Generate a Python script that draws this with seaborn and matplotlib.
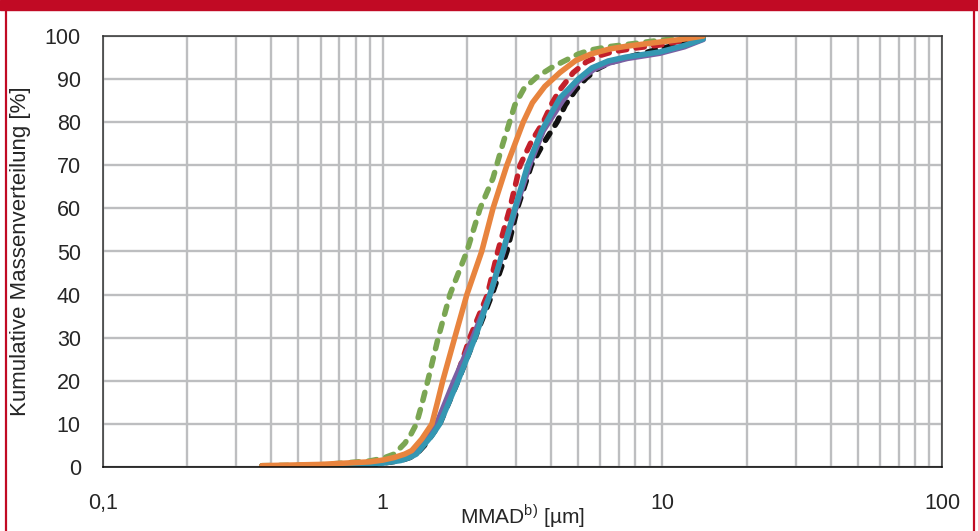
"""
Kumulative Massenverteilung vs. MMAD (log scale)
"""
import matplotlib
matplotlib.use('Agg')
import matplotlib.pyplot as plt
import matplotlib.patches as mpatches
import matplotlib.lines as mlines
from matplotlib.ticker import LogLocator, NullFormatter
import seaborn as sns
import pandas as pd

# --- data ---
black_x = [0.37, 0.6, 0.9, 1.0, 1.16, 1.25, 1.32, 1.42, 1.6, 1.86, 2.14, 2.46, 2.78, 3.03, 3.4, 3.75, 4.2, 4.5, 4.9, 5.35, 5.9, 6.5, 7.3, 8.1, 9.8, 12.0, 14.0]
black_y = [0.2, 0.3, 0.6, 0.9, 1.5, 2.2, 3.0, 5.2, 10, 20, 30, 40, 50, 60, 70, 75, 80, 84, 87.5, 90.3, 92.5, 93.8, 94.8, 95.6, 97.0, 98.4, 99.6]

red_x = [0.37, 0.6, 0.9, 1.0, 1.16, 1.25, 1.32, 1.42, 1.58, 1.82, 2.05, 2.37, 2.58, 2.85, 3.1, 3.4, 3.75, 4.04, 4.3, 4.8, 5.35, 6.0, 6.6, 8.0, 10.0, 12.0, 14.0]
red_y = [0.2, 0.3, 0.7, 1.0, 1.7, 2.5, 3.5, 5.8, 10.5, 20, 30, 40, 50, 60, 70, 75.5, 80, 84.5, 87.5, 91.5, 94, 95.5, 96.3, 97.2, 98.0, 99.0, 100]

purple_x = [0.37, 0.6, 0.9, 1.0, 1.16, 1.25, 1.32, 1.42, 1.57, 1.80, 2.10, 2.42, 2.70, 2.99, 3.35, 3.75, 4.4, 5.0, 5.7, 6.5, 7.5, 9.8, 12.0, 14.0]
purple_y = [0.2, 0.3, 0.7, 1.0, 1.7, 2.6, 3.5, 6.0, 10.5, 20, 30, 40, 50, 60, 70, 78, 85, 89.5, 92.3, 93.8, 94.8, 96.0, 97.5, 99.2]

teal_x = [0.37, 0.6, 0.9, 1.0, 1.16, 1.25, 1.32, 1.4, 1.5, 1.6, 1.86, 2.14, 2.42, 2.69, 2.97, 3.3, 3.7, 4.3, 5.0, 5.6, 6.4, 7.4, 9.8, 12.0, 14.0]
teal_y = [0.2, 0.3, 0.6, 0.9, 1.5, 2.2, 3.0, 5.0, 7.3, 10, 20, 30, 40, 50, 60, 70, 78, 85.6, 90, 92.6, 94.2, 95.1, 96.3, 97.8, 99.3]

green_x = [0.37, 0.6, 0.9, 1.0, 1.1, 1.2, 1.26, 1.32, 1.38, 1.45, 1.58, 1.74, 2.0, 2.23, 2.48, 2.69, 2.97, 3.2, 3.56, 4.0, 4.4, 5.0, 5.5, 6.4, 7.4, 9.8, 12.0, 14.0]
green_y = [0.3, 0.5, 1.4, 2.0, 3.0, 5.5, 7.5, 10, 14.5, 20, 30, 40, 50, 60, 67, 75, 84, 87.8, 90.5, 92.6, 94, 95.8, 96.7, 97.5, 98, 99, 99.5, 100]

orange_x = [0.37, 0.6, 0.9, 1.0, 1.1, 1.2, 1.27, 1.38, 1.5, 1.57, 1.64, 1.81, 2.0, 2.26, 2.48, 2.78, 3.18, 3.43, 3.8, 4.3, 4.9, 5.6, 6.5, 7.4, 9.8, 12.0, 14.0]
orange_y = [0.3, 0.6, 1.2, 1.6, 2.2, 3.0, 3.8, 6.5, 10, 15, 20, 30, 40, 50, 60, 70, 80, 84.5, 88.3, 91.5, 94.3, 95.9, 97.0, 97.6, 98.6, 99.3, 100]

x_ticks = [0.1, 1, 10, 100]
x_tick_labels = ['0,1', '1', '10', '100']
y_ticks = [0, 10, 20, 30, 40, 50, 60, 70, 80, 90, 100]

# (name, x, y, colour, dashed) in drawing order
series = [
    ('black', black_x, black_y, '#111111', True),
    ('red', red_x, red_y, '#C3202B', True),
    ('purple', purple_x, purple_y, '#7A5FA3', False),
    ('teal', teal_x, teal_y, '#3497B2', False),
    ('green', green_x, green_y, '#7BA653', True),
    ('orange', orange_x, orange_y, '#E8843E', False),
]

sns.set_style('white')
plt.rcParams['font.family'] = ['Liberation Sans', 'DejaVu Sans']
plt.rcParams['mathtext.fontset'] = 'custom'
plt.rcParams['mathtext.rm'] = 'Liberation Sans'

fig = plt.figure(figsize=(9.79, 5.31), dpi=100)
ax = fig.add_axes([103 / 979, 64 / 531, 839 / 979, 431 / 531])

for name, xs, ys, col, dashed in series:
    df = pd.DataFrame({'x': xs, 'y': ys})
    if dashed:
        sns.lineplot(data=df, x='x', y='y', ax=ax, color=col, linewidth=4.0,
                     sort=False, estimator=None,
                     linestyle=(0, (1.5, 1.7)), dash_capstyle='round')
    else:
        sns.lineplot(data=df, x='x', y='y', ax=ax, color=col, linewidth=4.0,
                     sort=False, estimator=None, solid_capstyle='round',
                     solid_joinstyle='round')

ax.set_xscale('log')
ax.set_xlim(0.1, 100)
ax.set_ylim(0, 100)
ax.set_xticks(x_ticks, labels=x_tick_labels)
ax.xaxis.set_minor_locator(LogLocator(base=10, subs=range(2, 10)))
ax.xaxis.set_minor_formatter(NullFormatter())
ax.set_yticks(y_ticks)

ax.grid(True, which='both', color='#BDBEC0', linewidth=1.7)
ax.set_axisbelow(True)
ax.tick_params(which='both', length=0)
ax.tick_params(axis='y', labelsize=15.5, pad=16)
ax.tick_params(axis='x', labelsize=15.5, pad=19)

for s in ax.spines.values():
    s.set_visible(True)
    s.set_color('#303030')
    s.set_linewidth(1.1)
ax.spines['bottom'].set_color('#000000')

ax.set_xlabel(r'MMAD$^{\mathrm{b)}}$ [µm]', fontsize=15, labelpad=-9)
ax.set_ylabel('Kumulative Massenverteilung [%]', fontsize=16, labelpad=10)

# red frame of the figure box
red = '#C10A24'
fig.patches.append(mpatches.Rectangle((0, 1 - 10 / 531), 1, 10 / 531,
                                      transform=fig.transFigure, color=red, zorder=0))
fig.lines.append(mlines.Line2D([6.5 / 979, 6.5 / 979], [0, 1], transform=fig.transFigure,
                               color=red, linewidth=1.6))
fig.lines.append(mlines.Line2D([974 / 979, 974 / 979], [0, 1], transform=fig.transFigure,
                               color=red, linewidth=1.6))

plt.savefig('out.png', dpi=100)
plt.close()
